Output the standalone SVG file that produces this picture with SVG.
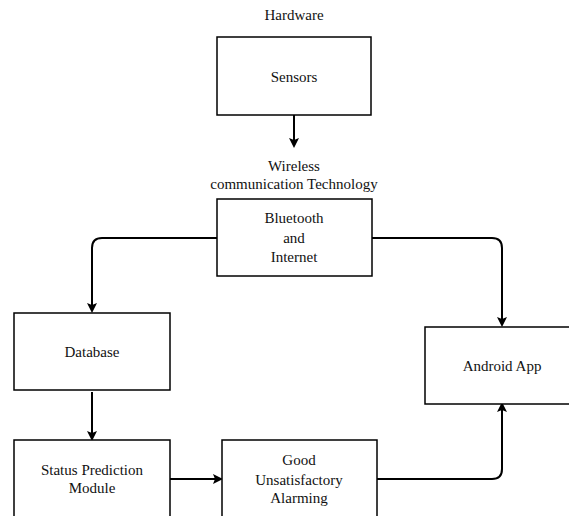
<svg xmlns="http://www.w3.org/2000/svg" width="569" height="516" viewBox="0 0 569 516">
<style>
.box{fill:#fff;stroke:#000;stroke-width:1.5}
.t{font-family:"Liberation Serif","Times New Roman",serif;font-size:15px;fill:#111;text-anchor:middle}
.c{fill:none;stroke:#000;stroke-width:2}
</style>
<defs>
<marker id="ah" markerWidth="10" markerHeight="10" refX="8" refY="5" orient="auto" markerUnits="userSpaceOnUse">
<path d="M0,0 L10,5 L0,10 L2,5 Z" fill="#000"/>
</marker>
</defs>
<rect width="569" height="516" fill="#fff"/>
<text class="t" x="294" y="20">Hardware</text>
<text class="t" x="294" y="171">Wireless</text>
<text class="t" x="294" y="189">communication Technology</text>
<g id="connectors">
<path class="c" d="M294,115 L294,146" marker-end="url(#ah)"/>
<path class="c" d="M217,238 L102,238 Q92,238 92,248 L92,311" marker-end="url(#ah)"/>
<path class="c" d="M372,238 L492,238 Q502,238 502,248 L502,325" marker-end="url(#ah)"/>
<path class="c" d="M92,392 L92,439" marker-end="url(#ah)"/>
<path class="c" d="M170,479 L221,479" marker-end="url(#ah)"/>
<path class="c" d="M377,479 L492,479 Q502,479 502,469 L502,404" marker-end="url(#ah)"/>
</g>
<g id="sensors"><rect class="box" x="217" y="37" width="154" height="78"/><text class="t" x="294" y="82">Sensors</text></g>
<g id="bluetooth"><rect class="box" x="217" y="199" width="155" height="77"/><text class="t" x="294" y="223">Bluetooth</text><text class="t" x="294" y="243">and</text><text class="t" x="294" y="262">Internet</text></g>
<g id="database"><rect class="box" x="14" y="313" width="156" height="77"/><text class="t" x="92" y="357">Database</text></g>
<g id="android"><rect class="box" x="425" y="327" width="160" height="77"/><text class="t" x="502" y="371">Android App</text></g>
<g id="status"><rect class="box" x="14" y="440" width="156" height="90"/><text class="t" x="92" y="475">Status Prediction</text><text class="t" x="92" y="493">Module</text></g>
<g id="result"><rect class="box" x="222" y="440" width="155" height="90"/><text class="t" x="299" y="465">Good</text><text class="t" x="299" y="485">Unsatisfactory</text><text class="t" x="299" y="503">Alarming</text></g>
</svg>
